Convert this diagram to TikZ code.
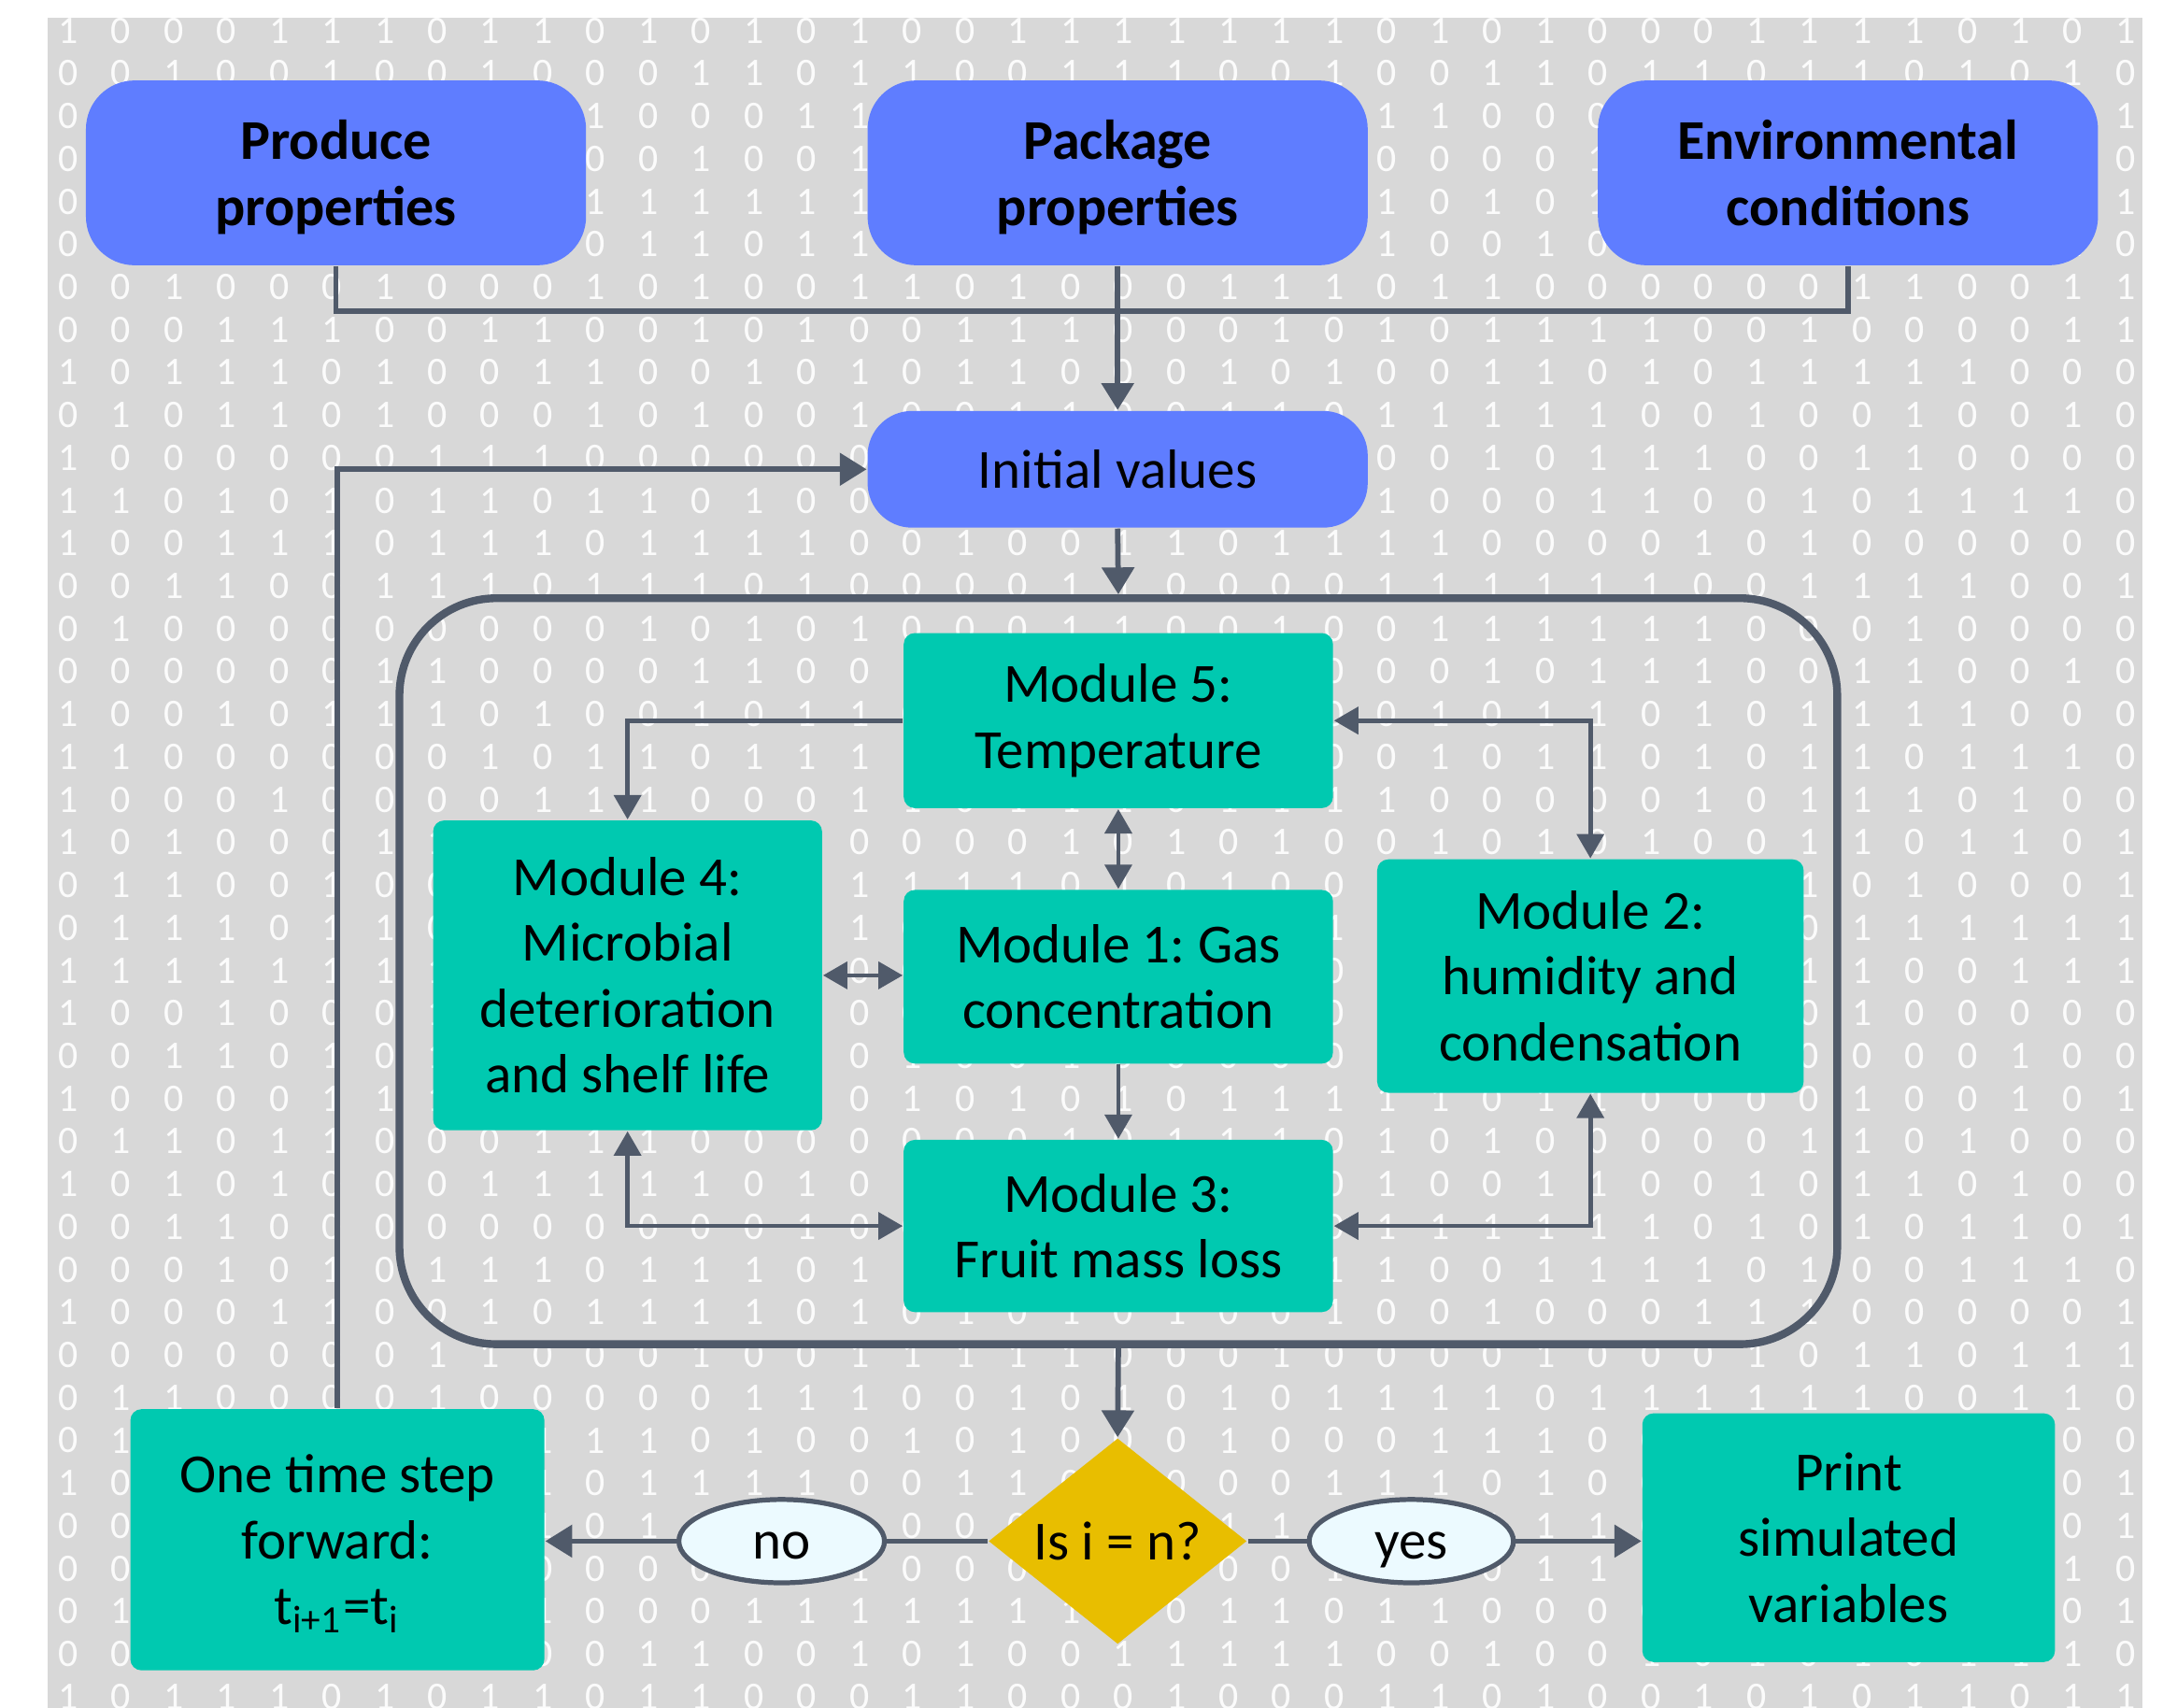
\documentclass[tikz,border=0pt]{standalone}
\usepackage{fontspec}
\setmainfont{Carlito}
\usetikzlibrary{arrows.meta,shapes.geometric}
\definecolor{bgray}{RGB}{216,216,216}
\definecolor{blueA}{RGB}{95,125,255}
\definecolor{tealA}{RGB}{0,201,176}
\definecolor{goldA}{RGB}{232,190,0}
\definecolor{lineC}{RGB}{80,90,106}
\definecolor{ellA}{RGB}{236,250,255}
\frenchspacing
\begin{document}
\begin{tikzpicture}[x=0.01cm,y=-0.01cm,
  digit/.style={text=white, text opacity=0.92, inner sep=0pt, font=\fontsize{8}{8.5}\selectfont},
  topbox/.style={fill=blueA, rounded corners=0.35cm, minimum width=3.6cm, minimum height=1.33cm, align=center, inner sep=0pt, font=\bfseries\fontsize{11.5}{13.6}\selectfont},
  initbox/.style={fill=blueA, rounded corners=0.32cm, minimum width=3.6cm, minimum height=0.84cm, align=center, inner sep=0pt, font=\fontsize{11.3}{13.5}\selectfont},
  modbox/.style={fill=tealA, rounded corners=0.08cm, align=center, inner sep=0pt, font=\fontsize{11.3}{13.5}\selectfont},
  decbox/.style={diamond, fill=goldA, minimum width=1.86cm, minimum height=1.36cm, inner sep=0pt, font=\fontsize{11.3}{13.5}\selectfont},
  answer/.style={ellipse, fill=ellA, draw=lineC, line width=1pt, minimum width=1.48cm, minimum height=0.6cm, inner sep=0pt, text height=7.4pt, text depth=0pt, font=\fontsize{11.3}{13.5}\selectfont},
  frame/.style={draw=lineC, line width=1.6pt, rounded corners=0.7cm, minimum width=10.35cm, minimum height=5.37cm, inner sep=0pt},
  conn/.style={draw=lineC, line width=1.1pt},
  inconn/.style={draw=lineC, line width=0.9pt},
  bigtip/.style={-{Triangle[length=5.5pt,width=6.5pt]}},
  smalltip/.style={{Triangle[length=5pt,width=5.5pt]}-{Triangle[length=5pt,width=5.5pt]}},
  onetip/.style={-{Triangle[length=5pt,width=5.5pt]}}
]
\useasboundingbox (0,0) rectangle (1568,1230);
\fill[bgray] (34,13) rectangle (1543,1230);
\pgfmathsetseed{12345}
\foreach \r in {0,...,39}{
  \foreach \c in {0,...,39}{
    \pgfmathrandominteger{\dg}{0}{1}
    \node[digit] (d-\r-\c) at ({49+38*\c},{22+30.77*\r}) {\dg};
  }
}

% top row
\node[topbox] (prod) at (242,124.5) {Produce\\\smash{properties}};
\node[topbox] (pack) at (805,124.5) {Package\\\smash{properties}};
\node[topbox] (env) at (1331,124.5) {Environmental\\\smash{conditions}};
\node[initbox] (init) at (805,338) {Initial values};

% frame
\node[frame] (big) at (805.5,699.5) {};

% modules
\node[modbox, minimum width=3.09cm, minimum height=1.26cm] (m5) at (805.5,519) {Module 5:\\Temperature};
\node[modbox, minimum width=2.80cm, minimum height=2.23cm] (m4) at (452,702.5) {Module 4:\\Microbial\\deterioration\\and shelf life};
\node[modbox, minimum width=3.09cm, minimum height=1.25cm] (m1) at (805.5,703.5) {Module 1: Gas\\concentration};
\node[modbox, minimum width=3.07cm, minimum height=1.68cm] (m2) at (1145.5,703) {Module 2:\\humidity and\\condensation};
\node[modbox, minimum width=3.09cm, minimum height=1.24cm] (m3) at (805.5,883) {Module 3:\\Fruit mass loss};

% bottom row
\node[modbox, minimum width=2.98cm, minimum height=1.88cm] (stepnode) at (243,1109) {One time step\\forward:\\\raisebox{0pt}[\height][0pt]{t\textsubscript{i+1}=t\textsubscript{i}}};
\node[modbox, minimum width=2.97cm, minimum height=1.79cm] (print) at (1331.5,1107.5) {Print\\simulated\\variables};
\node[decbox] (dia) at (805,1110) {Is i = n?};
\node[answer] (no) at (563,1110) {no};
\node[answer, minimum width=1.47cm] (yes) at (1016.5,1110) {yes};

% connectors
\coordinate (j) at (805,224);
\draw[conn] (prod.south) |- (j) -| (env.south);
\draw[conn, bigtip] (pack.south) -- (init.north);
\draw[conn, bigtip] (init.south) -- (big.north);
\draw[conn, bigtip] (big.south) -- (dia.north);
\draw[conn] (dia.west) -- (no.east);
\draw[conn, bigtip] (no.west) -- (stepnode.east |- no.west);
\draw[conn] (dia.east) -- (yes.west);
\draw[conn, bigtip] (yes.east) -- (print.west |- yes.east);
\draw[conn, bigtip] (stepnode.north) |- (init.west);

\draw[inconn, onetip] (m5.west) -| (m4.north);
\draw[inconn, smalltip] (m5.east) -| (m2.north);
\draw[inconn, smalltip] (m5.south) -- (m1.north);
\draw[inconn, smalltip] (m4.east) -- (m4.east -| m1.west);
\draw[inconn, onetip] (m1.south) -- (m3.north);
\draw[inconn, smalltip] (m4.south) |- (m3.west);
\draw[inconn, smalltip] (m2.south) |- (m3.east);
\end{tikzpicture}
\end{document}
